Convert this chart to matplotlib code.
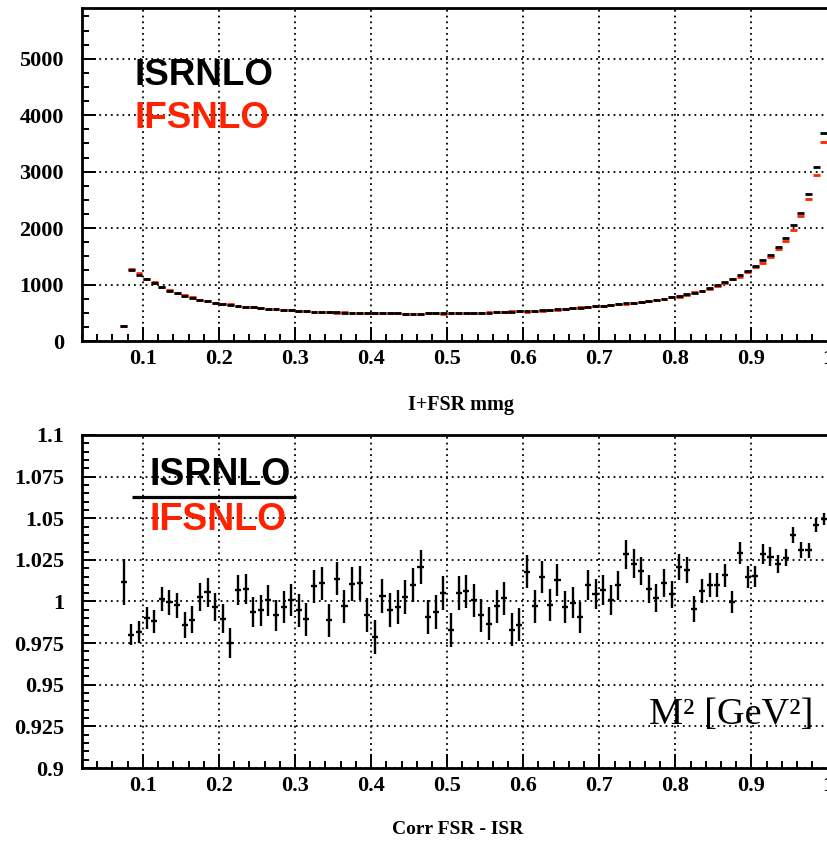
import numpy as np
import matplotlib.pyplot as plt
from matplotlib.ticker import MultipleLocator, FixedLocator

plt.rcParams.update({'font.family': 'Liberation Serif',
                     'font.weight': 'bold',
                     'xtick.labelsize': 16,
                     'ytick.labelsize': 16})

RED = '#ff2200'

# bin centres of the 0.01-wide bins that carry entries
bin_lo, bin_hi, bin_w = 0.075, 0.995, 0.01

# ISR NLO entries per bin
isr_counts = [265, 1250, 1175, 1090, 1025, 965, 895, 850, 805, 770,
              735, 705, 678, 655, 638, 622, 607, 594, 582, 571,
              561, 552, 543, 536, 529, 523, 517, 512, 508, 504,
              500, 497, 494, 492, 490, 489, 488, 487, 487, 487,
              488, 489, 490, 490, 492, 494, 497, 500, 504, 509,
              514, 519, 524, 530, 537, 545, 553, 562, 571, 580,
              590, 600, 615, 628, 642, 655, 668, 682, 697, 713,
              730, 750, 775, 798, 825, 857, 892, 934, 987, 1040,
              1100, 1170, 1247, 1335, 1430, 1530, 1672, 1826, 2050, 2275,
              2600, 3080, 3693]

# ISR / IFS ratio and its error
ratio = [1.0116, 0.9800, 0.9816, 0.9900, 0.9880, 1.0012, 0.9996, 0.9976, 0.9860, 0.9890,
         1.0026, 1.0054, 0.9966, 0.9896, 0.9750, 1.0070, 1.0076, 0.9936, 0.9946, 1.0006,
         0.9916, 0.9966, 1.0006, 0.9946, 0.9892, 1.0090, 1.0110, 0.9886, 1.0136, 0.9970,
         1.0106, 1.0110, 0.9920, 0.9786, 1.0032, 0.9946, 0.9966, 1.0026, 1.0100, 1.0206,
         0.9906, 0.9936, 1.0052, 0.9830, 1.0050, 1.0060, 1.0006, 0.9916, 0.9866, 0.9970,
         1.0020, 0.9830, 0.9860, 1.0180, 0.9970, 1.0146, 0.9976, 1.0130, 0.9966, 0.9993,
         0.9905, 1.0097, 1.0046, 1.0067, 1.0010, 1.0097, 1.0284, 1.0228, 1.0183, 1.0077,
         1.0022, 1.0111, 1.0042, 1.0208, 1.0188, 0.9956, 1.0063, 1.0097, 1.0097, 1.0157,
         0.9996, 1.0292, 1.0147, 1.0151, 1.0284, 1.0268, 1.0224, 1.0264, 1.0399, 1.0308,
         1.0308, 1.0460, 1.0494]

ratio_err = [0.0137, 0.0064, 0.0066, 0.0068, 0.0070, 0.0072, 0.0075, 0.0077, 0.0079, 0.0081,
             0.0083, 0.0085, 0.0086, 0.0088, 0.0089, 0.0090, 0.0091, 0.0092, 0.0093, 0.0094,
             0.0095, 0.0096, 0.0096, 0.0097, 0.0098, 0.0098, 0.0099, 0.0099, 0.0100, 0.0100,
             0.0101, 0.0101, 0.0101, 0.0102, 0.0102, 0.0102, 0.0102, 0.0102, 0.0102, 0.0102,
             0.0102, 0.0102, 0.0102, 0.0102, 0.0101, 0.0101, 0.0101, 0.0100, 0.0100, 0.0099,
             0.0099, 0.0099, 0.0098, 0.0098, 0.0097, 0.0096, 0.0096, 0.0095, 0.0094, 0.0093,
             0.0092, 0.0091, 0.0090, 0.0090, 0.0089, 0.0088, 0.0087, 0.0086, 0.0085, 0.0084,
             0.0083, 0.0082, 0.0081, 0.0080, 0.0078, 0.0077, 0.0075, 0.0073, 0.0072, 0.0070,
             0.0068, 0.0066, 0.0064, 0.0062, 0.0059, 0.0057, 0.0055, 0.0053, 0.0050, 0.0047,
             0.0044, 0.0041, 0.0037]

x = np.arange(len(isr_counts)) * bin_w + bin_lo
isr = np.array(isr_counts, dtype=float)
ifs = isr / np.array(ratio)


def root_style(ax, ymajor, yminor):
    ax.set_xlim(0.02, 1.0)
    ax.xaxis.set_major_locator(FixedLocator(np.round(np.arange(0.1, 1.01, 0.1), 2)))
    ax.xaxis.set_minor_locator(MultipleLocator(0.02))
    ax.yaxis.set_major_locator(MultipleLocator(ymajor))
    ax.yaxis.set_minor_locator(MultipleLocator(yminor))
    ax.tick_params(which='both', direction='in', top=False, right=False, width=1.4)
    ax.tick_params(which='major', length=10)
    ax.tick_params(which='minor', length=5)
    ax.tick_params(axis='y', pad=13)
    ax.tick_params(axis='x', pad=6)
    ax.grid(True, which='major', color='black', lw=1.3, ls=(0, (1, 2.2)))
    for s in ax.spines.values():
        s.set_linewidth(2)
    ax.xaxis.set_major_formatter(lambda v, p: f"{v:g}")


fig = plt.figure(figsize=(8.27, 8.41), dpi=100)

# upper panel: the two spectra
ax1 = fig.add_axes([0.09915, 0.5945, 0.9015, 0.3960])
ax1.hlines(ifs, x - 0.0045, x + 0.0045, color=RED, lw=2, zorder=3)
ax1.hlines(isr, x - 0.0045, x + 0.0045, color='black', lw=2, zorder=4)
ax1.set_ylim(0, 5900)
root_style(ax1, 1000, 250)
ax1.yaxis.set_major_formatter(lambda v, p: f"{v:.0f}")
ax1.text(0.0705, 0.797, 'ISRNLO', transform=ax1.transAxes, family='Liberation Sans',
         fontsize=26.5, weight='bold', color='black', va='center')
ax1.text(0.0705, 0.668, 'IFSNLO', transform=ax1.transAxes, family='Liberation Sans',
         fontsize=26.5, weight='bold', color=RED, va='center')
fig.text(0.557, 1 - 405 / 841, 'I+FSR mmg', ha='center', va='center', fontsize=14.5)

# lower panel: ratio
ax2 = fig.add_axes([0.09915, 0.0868, 0.9015, 0.3960])
ax2.errorbar(x, ratio, yerr=ratio_err, xerr=0.004, fmt='none', ecolor='black',
             elinewidth=1.7, capsize=0, zorder=4)
ax2.set_ylim(0.9, 1.1)
root_style(ax2, 0.025, 0.005)
ax2.yaxis.set_major_formatter(lambda v, p: f"{v:g}")
ax2.text(0.0906, 0.879, 'ISRNLO', transform=ax2.transAxes, family='Liberation Sans',
         fontsize=27, weight='bold', color='black', va='center')
ax2.plot([0.0671, 0.2873], [0.8138, 0.8138], transform=ax2.transAxes,
         color='black', lw=2.3, solid_capstyle='butt', clip_on=False)
ax2.text(0.0906, 0.745, 'IFSNLO', transform=ax2.transAxes, family='Liberation Sans',
         fontsize=27, weight='bold', color=RED, va='center')
ax2.text(0.981, 0.132, 'M² [GeV²]', transform=ax2.transAxes, family='Liberation Serif',
         fontsize=27.5, weight='normal', ha='right', va='baseline')
fig.text(0.553, 1 - 830 / 841, 'Corr FSR - ISR', ha='center', va='center', fontsize=14)

fig.savefig('out.png', dpi=100)
